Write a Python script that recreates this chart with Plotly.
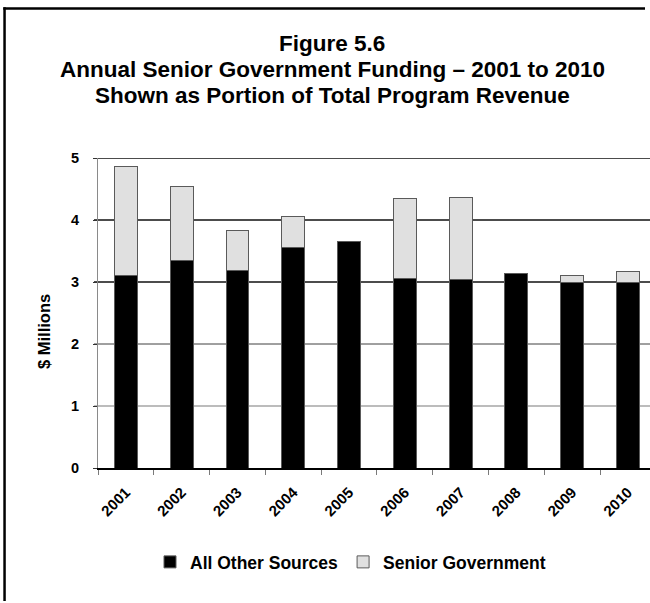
import plotly.graph_objects as go

# Funding by year, $ millions
years = ["2001", "2002", "2003", "2004", "2005", "2006", "2007", "2008", "2009", "2010"]
other_sources = [3.10, 3.34, 3.18, 3.55, 3.66, 3.06, 3.04, 3.14, 2.99, 3.00]
senior_gov = [1.76, 1.20, 0.65, 0.51, None, 1.28, 1.32, None, 0.11, 0.17]
y_ticks = [0, 1, 2, 3, 4, 5]

title_lines = [
    "Figure 5.6",
    "Annual Senior Government Funding \u2013 2001 to 2010",
    "Shown as Portion of Total Program Revenue",
]

W, H = 650, 603
L, R, T, B = 98, 0, 158, 135
PW, PH = W - L - R, H - T - B


def px_x(p):
    return (p - L) / PW


def px_y(p):
    return (H - B - p) / PH


FONT = "Liberation Sans, Arial, sans-serif"

fig = go.Figure()
fig.add_trace(go.Bar(
    x=years, y=other_sources, name="All Other Sources",
    marker=dict(color="#000000", line=dict(color="#5a5a5a", width=1)),
))
fig.add_trace(go.Bar(
    x=years, y=senior_gov, name="Senior Government",
    marker=dict(color="#e0e0e0", line=dict(color="#5a5a5a", width=1)),
))

# horizontal gridlines, each with its own weight
grid_style = {1: ("#bcbcbc", 2), 2: ("#404040", 1), 3: ("#111111", 1.5),
              4: ("#111111", 1.5), 5: ("#111111", 1.5)}
shapes = []
for v in y_ticks[1:]:
    c, w = grid_style[v]
    shapes.append(dict(type="line", xref="paper", yref="y", x0=px_x(94), x1=1,
                       y0=v, y1=v, line=dict(color=c, width=w), layer="below"))

# outer frame: left and top edges as thin filled bars
shapes.append(dict(type="rect", xref="paper", yref="paper",
                   x0=px_x(3.3), x1=px_x(5.8), y0=px_y(601), y1=px_y(7.3),
                   fillcolor="#000000", line=dict(width=0), layer="above"))
shapes.append(dict(type="rect", xref="paper", yref="paper",
                   x0=px_x(3.3), x1=px_x(645), y0=px_y(9.8), y1=px_y(7.3),
                   fillcolor="#000000", line=dict(width=0), layer="above"))

annotations = []
for i, line in enumerate(title_lines):
    annotations.append(dict(
        text=line, xref="paper", yref="paper", x=px_x(332), y=px_y(43 + 26.3 * i),
        xanchor="center", yanchor="middle", showarrow=False,
        font=dict(family=FONT, size=22.5, color="#000000", weight="bold"),
    ))
annotations.append(dict(
    text="$ Millions", xref="paper", yref="paper", x=px_x(44), y=px_y(332),
    xanchor="center", yanchor="middle", textangle=-90, showarrow=False,
    font=dict(family=FONT, size=16.5, color="#000000", weight="bold"),
))

fig.update_layout(
    width=W, height=H, autosize=False,
    margin=dict(l=L, r=R, t=T, b=B, pad=0, autoexpand=False),
    paper_bgcolor="#ffffff", plot_bgcolor="#ffffff",
    barmode="stack", bargap=0.59,
    font=dict(family=FONT, color="#000000", weight="bold"),
    showlegend=True,
    legend=dict(orientation="h", x=px_x(150), y=px_y(562), xanchor="left",
                yanchor="middle", font=dict(size=17.5, family=FONT, weight="bold"),
                traceorder="normal", itemclick=False, bgcolor="rgba(0,0,0,0)"),
    shapes=shapes,
    annotations=annotations,
)
fig.update_xaxes(
    type="category", range=[-0.5, 9.395], tickangle=-45,
    showline=True, linecolor="#000000", linewidth=1.5,
    ticks="outside", tickson="boundaries", ticklen=5, tickcolor="#7a7a7a", tickwidth=1,
    tickfont=dict(size=15, family=FONT, weight="bold"), showgrid=False,
    ticklabelstandoff=8,
)
fig.update_yaxes(
    range=[0, 5], tickvals=y_ticks, showgrid=False, zeroline=False,
    showline=True, linecolor="#8a8a8a", linewidth=1,
    ticks="outside", ticklen=4, tickcolor="#333333",
    tickfont=dict(size=14.5, family=FONT, weight="bold"),
    ticklabelstandoff=11,
)

fig.write_html("out.html", config={"displayModeBar": False})
